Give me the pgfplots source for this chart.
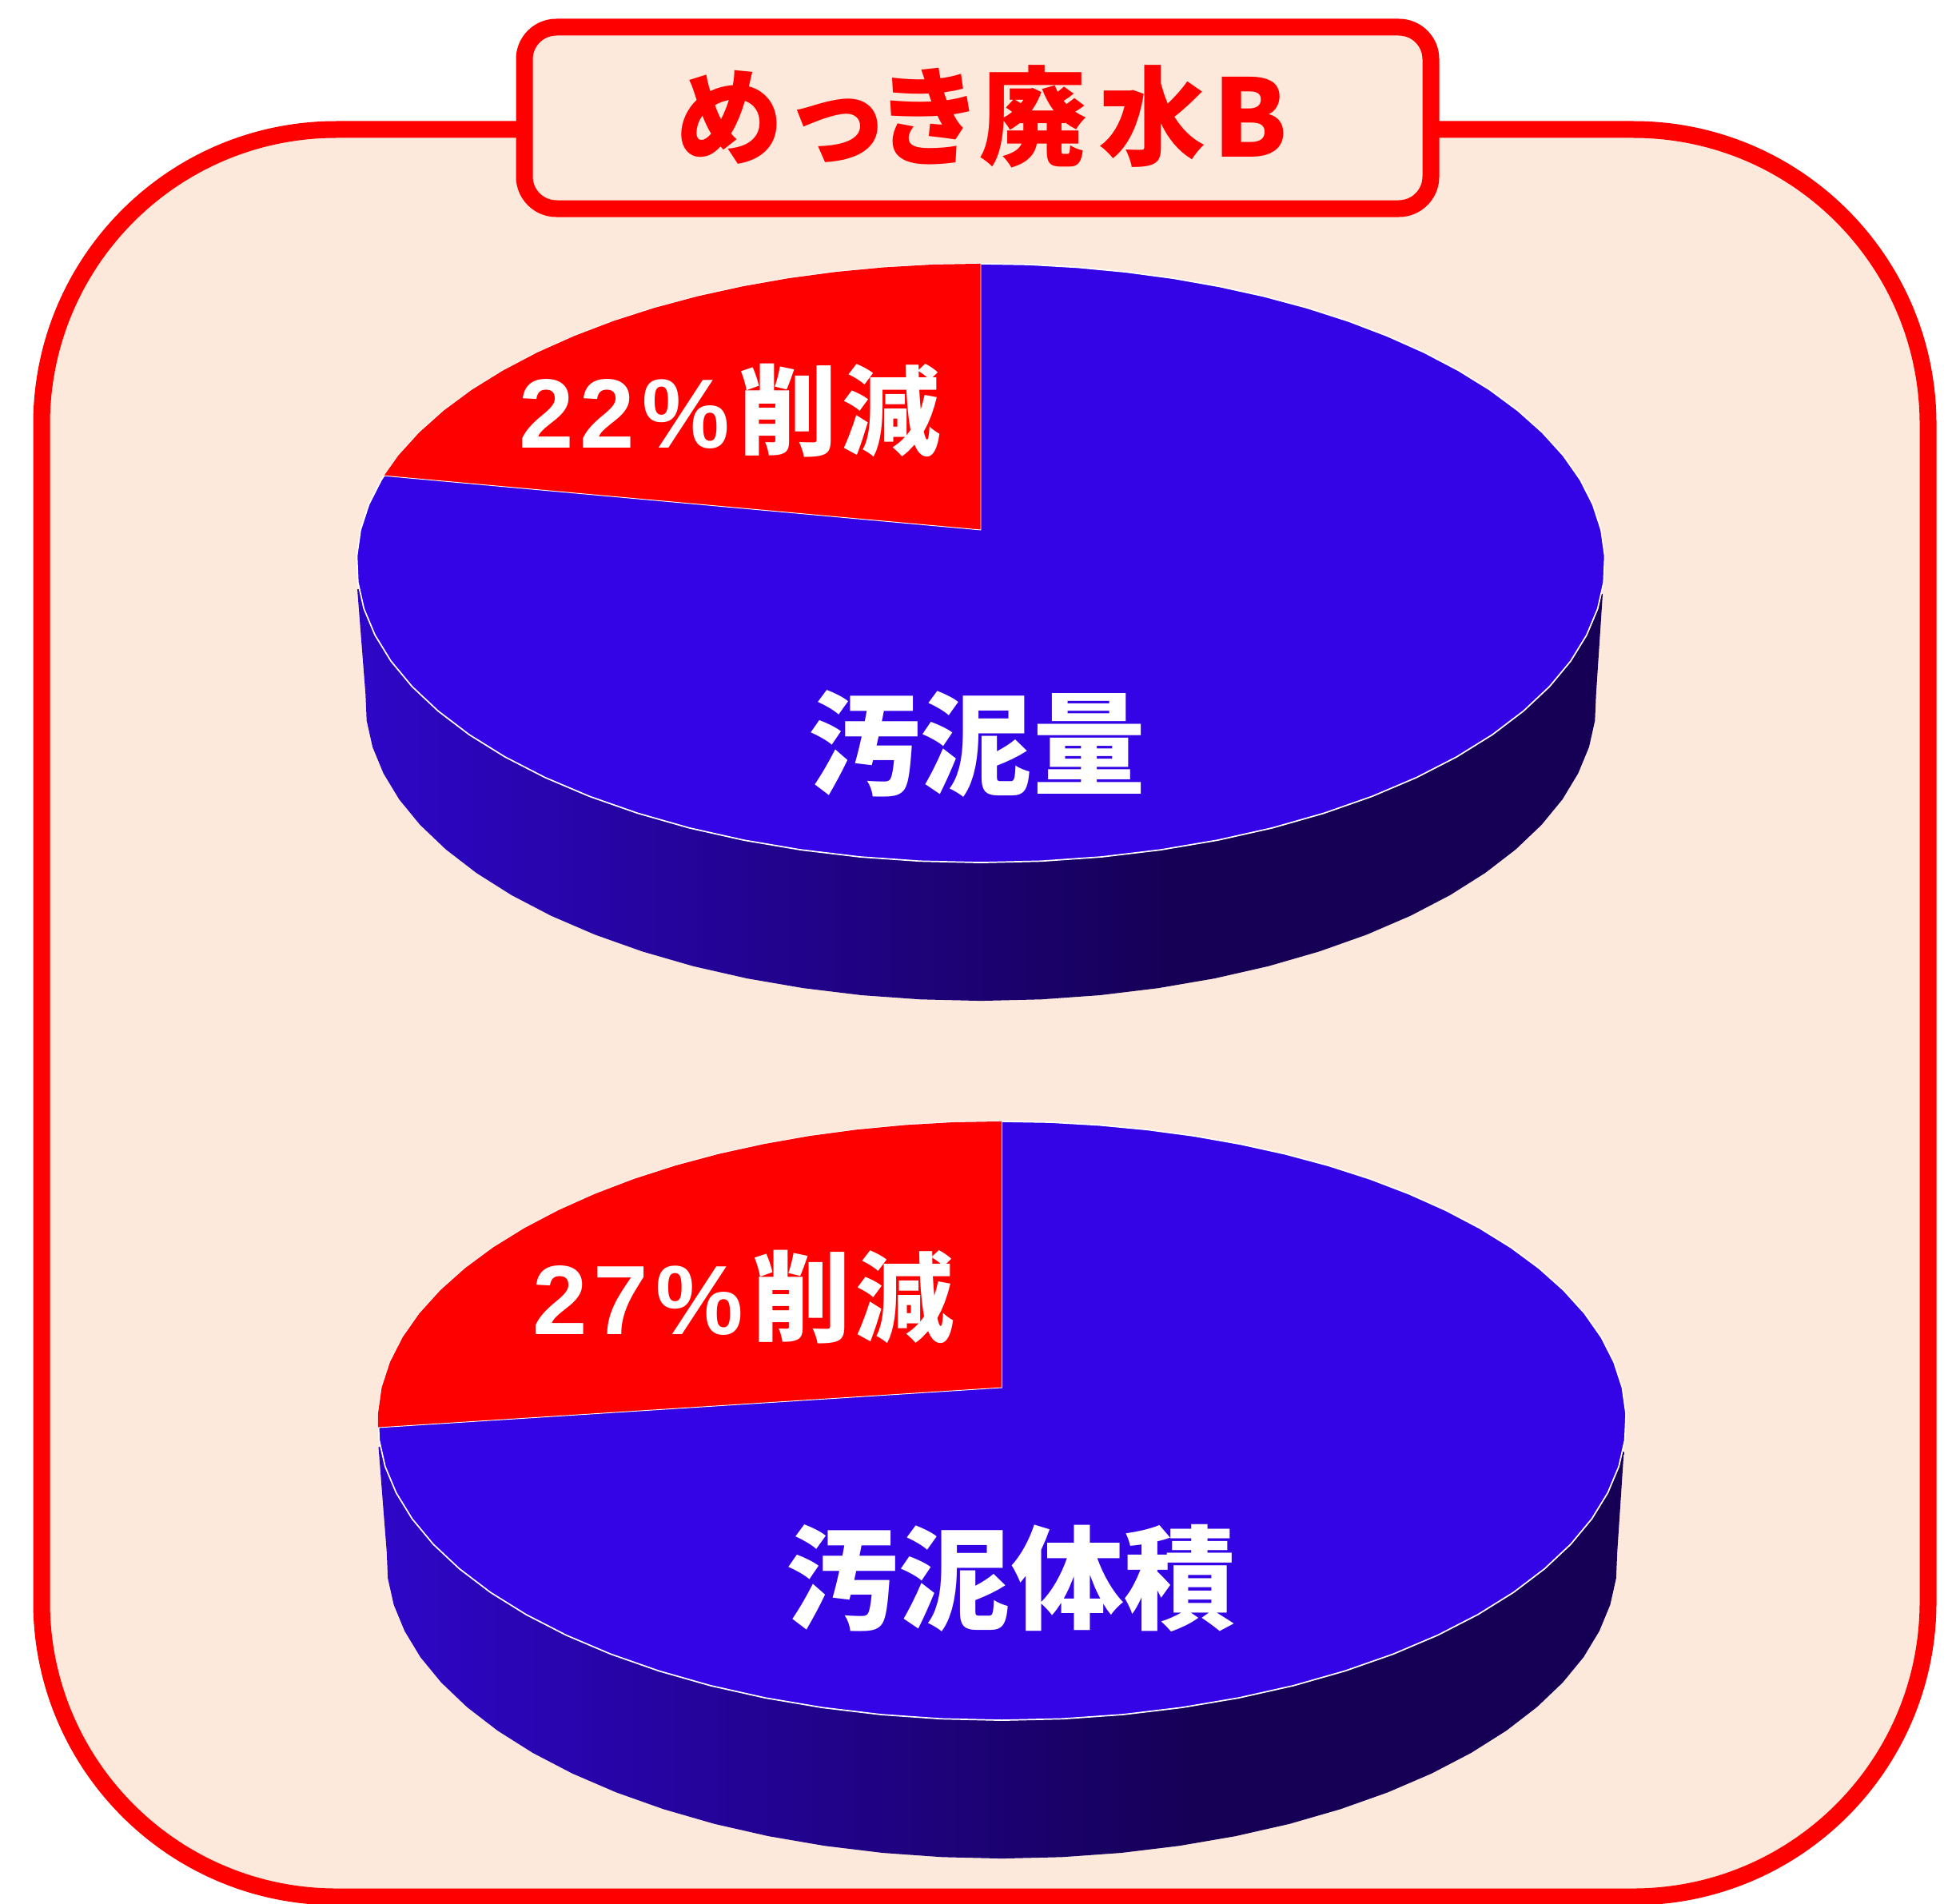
\documentclass[border=0pt]{standalone}
\usepackage{pgfplots}
\usepackage{pgfplotstable}
\usepackage{fontspec}
\pgfplotsset{compat=1.18}
\setmainfont{Liberation Sans}
\newfontfamily\jp{Noto Sans CJK JP}
\definecolor{bgc}{HTML}{FDE9DB}
\definecolor{topb}{HTML}{3404E6}
\definecolor{sideA}{HTML}{2E06C8}
\definecolor{sideB}{HTML}{150055}
\pgfdeclarehorizontalshading{sidesh}{100bp}{color(0bp)=(sideA); color(25bp)=(sideA); color(58bp)=(sideB); color(100bp)=(sideB)}
% pie 1: top ellipse outline
\pgfplotstableread{
x y
1227 329.9
1287.9 331.0
1348.5 334.5
1408.4 340.2
1467.4 348.1
1525 358.3
1581 370.6
1635.1 385.1
1686.8 401.7
1735.8 420.4
1781.9 441
1824.7 463.5
1863.8 487.7
1898.8 513.6
1929.6 541.1
1955.7 569.9
1976.8 600
1992.6 631.1
2003 663
2007.6 695.6
2006.2 728.5
1998.7 761.6
1984.9 794.5
1964.9 827.1
1938.5 858.9
1905.8 889.6
1867 919.1
1822.3 946.9
1772.1 972.7
1716.5 996.3
1656.2 1017.4
1591.6 1035.8
1523.3 1051.1
1451.9 1063.2
1378.3 1072
1303 1077.3
1227 1079.1
1151 1077.3
1075.7 1072
1002.1 1063.2
930.7 1051.1
862.4 1035.8
797.8 1017.4
737.5 996.3
681.9 972.7
631.7 946.9
587 919.1
548.2 889.6
515.5 858.9
489.1 827.1
469.1 794.5
455.3 761.6
447.8 728.5
446.4 695.6
451 663
461.4 631.1
477.2 600
498.3 569.9
524.4 541.1
555.2 513.6
590.2 487.7
629.3 463.5
672.1 441
718.2 420.4
767.2 401.7
818.9 385.1
873 370.6
929 358.3
986.6 348.1
1045.6 340.2
1105.5 334.5
1166.1 331
}\topA
% pie 1: red slice, 22 %
\pgfplotstableread{
x y
1227 663
1227 329.9
1166.1 331
1105.5 334.5
1045.6 340.2
986.6 348.1
929 358.3
873 370.6
818.9 385.1
767.2 401.7
718.2 420.4
672.1 441
629.3 463.5
590.2 487.7
555.2 513.6
524.4 541.1
498.3 569.9
480.4 595.2
}\redA
% pie 1: side wall
\pgfplotstableread{
x y
2005 743
1996.7 868.6
1995.3 901.5
1987.9 934.6
1974.3 967.5
1954.6 1000.1
1928.5 1031.9
1896.3 1062.6
1858 1092.1
1814 1119.9
1764.5 1145.7
1709.7 1169.3
1650.2 1190.4
1586.5 1208.8
1519.2 1224.1
1448.8 1236.2
1376.2 1245
1301.9 1250.3
1227 1252.1
1152.1 1250.3
1077.8 1245
1005.2 1236.2
934.8 1224.1
867.5 1208.8
803.8 1190.4
744.3 1169.3
689.5 1145.7
640 1119.9
596 1092.1
557.7 1062.6
525.5 1031.9
499.4 1000.1
479.7 967.5
466.1 934.6
458.7 901.5
457.3 868.6
447 737
}\sideA
% pie 2: top ellipse outline
\pgfplotstableread{
x y
1253.5 1402.9
1314.4 1404
1375 1407.5
1434.9 1413.2
1493.9 1421.1
1551.5 1431.3
1607.5 1443.6
1661.6 1458.1
1713.3 1474.7
1762.3 1493.4
1808.4 1514
1851.2 1536.5
1890.3 1560.7
1925.3 1586.6
1956.1 1614.1
1982.2 1642.9
2003.3 1673
2019.1 1704.1
2029.5 1736
2034.1 1768.6
2032.7 1801.5
2025.2 1834.6
2011.4 1867.5
1991.4 1900.1
1965 1931.9
1932.3 1962.6
1893.5 1992.1
1848.8 2019.9
1798.6 2045.7
1743 2069.3
1682.7 2090.4
1618.1 2108.8
1549.8 2124.1
1478.4 2136.2
1404.8 2145
1329.5 2150.3
1253.5 2152.1
1177.5 2150.3
1102.2 2145
1028.6 2136.2
957.2 2124.1
888.9 2108.8
824.3 2090.4
764 2069.3
708.4 2045.7
658.2 2019.9
613.5 1992.1
574.7 1962.6
542 1931.9
515.6 1900.1
495.6 1867.5
481.8 1834.6
474.3 1801.5
472.9 1768.6
477.5 1736
487.9 1704.1
503.7 1673
524.8 1642.9
550.9 1614.1
581.7 1586.6
616.7 1560.7
655.8 1536.5
698.6 1514
744.7 1493.4
793.7 1474.7
845.4 1458.1
899.5 1443.6
955.5 1431.3
1013.1 1421.1
1072.1 1413.2
1132 1407.5
1192.6 1404
}\topB
% pie 2: red slice, 27 %
\pgfplotstableread{
x y
1253.5 1736
1253.5 1402.9
1192.6 1404
1132 1407.5
1072.1 1413.2
1013.1 1421.1
955.5 1431.3
899.5 1443.6
845.4 1458.1
793.7 1474.7
744.7 1493.4
698.6 1514
655.8 1536.5
616.7 1560.7
581.7 1586.6
550.9 1614.1
524.8 1642.9
503.7 1673
487.9 1704.1
477.5 1736
472.9 1768.6
473 1786
}\redB
% pie 2: side wall
\pgfplotstableread{
x y
2031.5 1816
2023.2 1941.6
2021.8 1974.5
2014.4 2007.6
2000.8 2040.5
1981.1 2073.1
1955 2104.9
1922.8 2135.6
1884.5 2165.1
1840.5 2192.9
1791 2218.7
1736.2 2242.3
1676.7 2263.4
1613 2281.8
1545.7 2297.1
1475.3 2309.2
1402.7 2318
1328.4 2323.3
1253.5 2325.1
1178.6 2323.3
1104.3 2318
1031.7 2309.2
961.3 2297.1
894 2281.8
830.3 2263.4
770.8 2242.3
716 2218.7
666.5 2192.9
622.5 2165.1
584.2 2135.6
552 2104.9
525.9 2073.1
506.2 2040.5
492.6 2007.6
485.2 1974.5
483.8 1941.6
473.5 1810
}\sideB
\begin{document}
\begin{tikzpicture}
\begin{axis}[
  width=781.44pt,height=762.24pt,scale only axis,at={(0,0)},anchor=south west,
  xmin=0,xmax=2442,ymin=0,ymax=2382,y dir=reverse,
  hide axis,clip=true]
\draw[red,line width=6.72pt,fill=bgc,rounded corners=118pt]
  (axis cs:52,162) rectangle (axis cs:2412,2373);
\addplot[draw=none,shade,shading=sidesh] table {\sideA} -- cycle;
\addplot[draw=white,line width=0.55pt,fill=topb] table {\topA} -- cycle;
\addplot[draw=none,fill=red] table {\redA} -- cycle;
\addplot[draw=white,line width=0.3pt] coordinates {(480.4,595.2) (1227,663) (1227,329.9)};
\addplot[draw=none,shade,shading=sidesh] table {\sideB} -- cycle;
\addplot[draw=white,line width=0.55pt,fill=topb] table {\topB} -- cycle;
\addplot[draw=none,fill=red] table {\redB} -- cycle;
\addplot[draw=white,line width=0.3pt] coordinates {(473,1786) (1253.5,1736) (1253.5,1402.9)};
\draw[red,line width=6.72pt,fill=bgc,rounded corners=12.8pt]
  (axis cs:656,34) rectangle (axis cs:1790,261);
\node[text=red,font=\jp\bfseries\fontsize{43}{43}\selectfont,inner sep=0pt] at (axis cs:1228,146) {めっ\kern-6ptき\kern-1.5pt 廃\kern5pt 水\kern2.5pt B};
\node[text=white,font=\jp\bfseries\fontsize{45}{45}\selectfont,inner sep=0pt] at (axis cs:1222,930) {汚泥量};
\node[text=white,font=\jp\bfseries\fontsize{45}{45}\selectfont,inner sep=0pt] at (axis cs:1265,1974) {汚泥体積};
\node[text=white,font=\bfseries\fontsize{39.4}{39.4}\selectfont,inner sep=0pt] at (axis cs:913,514) {2\kern2.5pt 2\kern3pt\%\kern3.5pt{\jp 削\kern2pt 減}};
\node[text=white,font=\bfseries\fontsize{39.4}{39.4}\selectfont,inner sep=0pt] at (axis cs:930,1623) {2\kern2.5pt 7\kern3pt\%\kern3.5pt{\jp 削\kern2pt 減}};
\end{axis}
\pgfresetboundingbox
\path (0,0) rectangle (781.44pt,762.24pt);
\end{tikzpicture}
\end{document}
